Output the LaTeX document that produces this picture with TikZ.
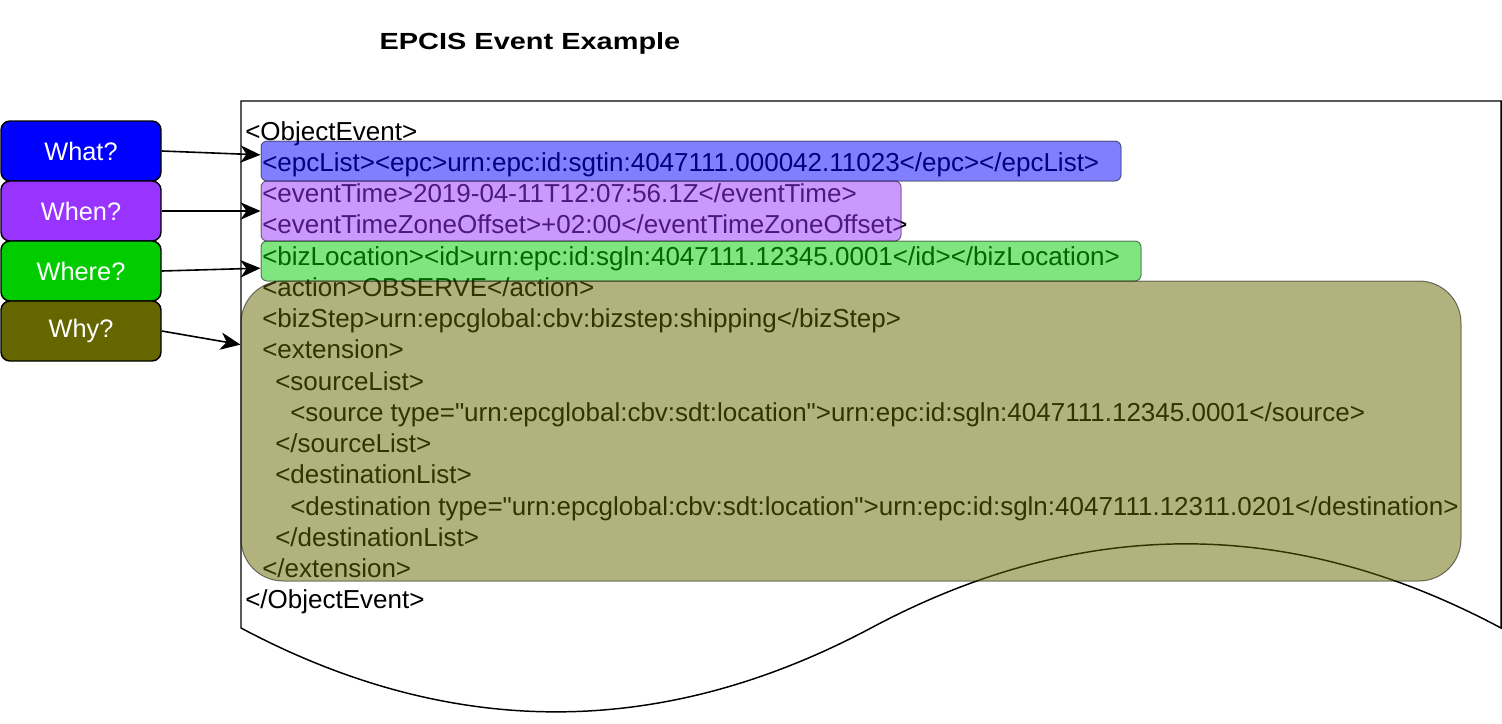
\documentclass[tikz,border=0pt]{standalone}
\usepackage{fontspec}
\setmainfont{Liberation Sans}
\newfontfamily\xmlfont{Liberation Sans}
\newfontfamily\titlefont[FakeStretch=1.24]{Liberation Sans}
\usetikzlibrary{arrows.meta,calc}

\definecolor{whatblue}{HTML}{0000FF}
\definecolor{whenpurple}{HTML}{9933FF}
\definecolor{wheregreen}{HTML}{00CC00}
\definecolor{whyolive}{HTML}{666600}

\begin{document}
\begin{tikzpicture}[x=0.75pt, y=-0.75pt,
        xml/.style={anchor=base west, inner sep=0pt, font=\xmlfont\fontsize{19.5pt}{23pt}\selectfont},
        question/.style={draw=black, line width=1.1pt, rounded corners=6.75pt, minimum width=120pt,
            minimum height=45pt, inner sep=0pt, text=white, font=\fontsize{19pt}{23pt}\selectfont},
        part/.style={draw=black, draw opacity=0.5, fill opacity=0.5, line width=0.75pt,
            rounded corners=4.5pt, inner sep=0pt},
        link/.style={-{Stealth[length=15pt,width=13pt,inset=4.5pt]}, line width=1.2pt}]
        \useasboundingbox (0,0) rectangle (1502,724);

        \node[font=\titlefont\bfseries\fontsize{17.5pt}{20pt}\selectfont] (title) at (530,43) {EPCIS Event Example};

        % document shape with the event
        \draw[line width=1.1pt, fill=white] (241,101) -- (1501,101) -- (1501,628)
            .. controls (1291,515.8) and (1081,515.8) .. (871,628)
            .. controls (661,739.8) and (451,739.8) .. (241,628) -- cycle;

        \node[xml] (objopen) at (245,140) {<ObjectEvent>};
        \node[xml] (epclist) at (262,171.25) {<epcList><epc>urn:epc:id:sgtin:4047111.000042.11023</epc></epcList>};
        \node[xml] (evtime) at (262,202.5) {<eventTime>2019-04-11T12:07:56.1Z</eventTime>};
        \node[xml] (evoffset) at (262,233.75) {<eventTimeZoneOffset>+02:00</eventTimeZoneOffset>};
        \node[xml] (bizloc) at (262,265) {<bizLocation><id>urn:epc:id:sgln:4047111.12345.0001</id></bizLocation>};
        \node[xml] (action) at (262,296.25) {<action>OBSERVE</action>};
        \node[xml] (bizstep) at (262,327.5) {<bizStep>urn:epcglobal:cbv:bizstep:shipping</bizStep>};
        \node[xml] (extopen) at (262,358.75) {<extension>};
        \node[xml] (srclistopen) at (275,390) {<sourceList>};
        \node[xml] (source) at (290,421.25) {<source type="urn:epcglobal:cbv:sdt:location">urn:epc:id:sgln:4047111.12345.0001</source>};
        \node[xml] (srclistclose) at (275,452.5) {</sourceList>};
        \node[xml] (dstlistopen) at (275,483.75) {<destinationList>};
        \node[xml] (destination) at (290,515) {<destination type="urn:epcglobal:cbv:sdt:location">urn:epc:id:sgln:4047111.12311.0201</destination>};
        \node[xml] (dstlistclose) at (275,546.25) {</destinationList>};
        \node[xml] (extclose) at (262,577.5) {</extension>};
        \node[xml] (objclose) at (245,608.75) {</ObjectEvent>};

        % highlighted parts
        \node[part, fill=whatblue, minimum width=645pt, minimum height=30pt] (epcbox) at (691,161) {};
        \node[part, fill=whenpurple, minimum width=480pt, minimum height=45pt] (timebox) at (581,211) {};
        \node[part, fill=wheregreen, minimum width=660pt, minimum height=30pt] (locbox) at (701,261) {};
        \node[part, fill=whyolive, minimum width=915pt, minimum height=225pt, rounded corners=31.5pt] (whybox) at (851,431) {};

        \node[question, fill=whatblue] (what) at (81,151) {What?};
        \node[question, fill=whenpurple] (when) at (81,211) {When?};
        \node[question, fill=wheregreen] (where) at (81,271) {Where?};
        \node[question, fill=whyolive] (why) at (81,331) {Why?};

        \draw[link] (what.east) -- ($(epcbox.north west)!0.35!(epcbox.south west)$);
        \draw[link] (when.east) -- (timebox.west);
        \draw[link] (where.east) -- ($(locbox.north west)!0.675!(locbox.south west)$);
        \draw[link] (why.east) -- ($(whybox.north west)!0.213!(whybox.south west)$);
\end{tikzpicture}
\end{document}
